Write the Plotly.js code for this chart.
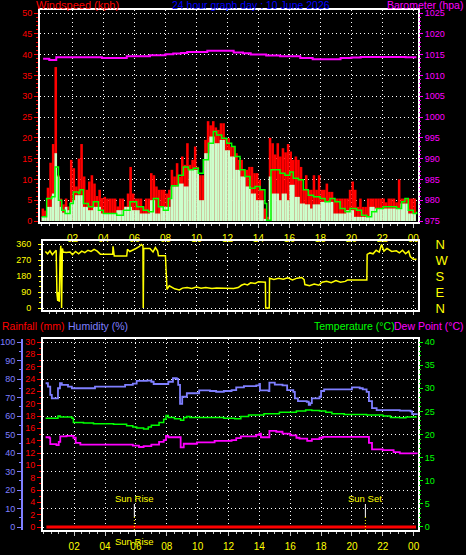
<!DOCTYPE html>
<html><head><meta charset="utf-8">
<script src="https://cdn.plot.ly/plotly-3.0.1.min.js"></script>
<style>html,body{margin:0;padding:0;background:#000;}#chart{width:466px;height:555px;}</style>
</head><body><div id="chart"></div>
<script>
// ---------- DATA ----------
const chartTitle = "24 hour graph day : 10 June 2026";
const hourTicks = [2,4,6,8,10,12,14,16,18,20,22,24];
const hourLabels = ["02","04","06","08","10","12","14","16","18","20","22","00"];

const windStepHours = 1/6; // 10-minute samples starting at 00:00
const windGust = [
 3,2.5,8,14,18.5,37, 11,5.4,4,5.4,3.5,14.7, 12.7,8.3,15,18.5,10.7,7.5, 9.5,11,9,6,7.5,5.5,
 5.8,5.4,5.4,5.4,5.4,3.5, 5.4,5.4,3.5,6.6,13,6.6, 5.4,5.4,5.4,3.5,5.4,5.4, 11.5,11,8.3,7.5,7.5,7.5,
 6.6,7.5,12.3,10.7,13.9,10.7, 15.5,13.5,18.7,13.5,14.7,17.9, 13,11,11,19.5,24,23, 24,22.5,21.9,23.5,23.5,19.9,
 19.9,17.9,17.9,16.3,14.7,14.7, 12.3,12.3,13,13,11.5,11.5, 9.9,7.5,3,1,20,18.7, 16,18.7,15.5,17.5,16.5,18.5,
 16.7,14.7,15.5,14.7,13,7.5, 11,7.5,7.5,11,7.5,11, 7.5,7.5,9,7,7,5.4, 5.4,5.4,5.4,5.4,5.4,7.5,
 9.5,7.5,3.4,5.4,3.4,3.4, 5.4,5.4,5.4,5.4,5.4,5.4, 5.4,4.5,5.4,5.4,5.4,4.5, 10,5.4,5.4,5.4,5.4,5.4, 5.4];
const windSpeed = [
 1,1,3.4,3.4,6.6,16.3, 10.7,3.4,2,3.4,2.6,4.5, 5,6.2,6.2,6.2,3.4,3.4, 2.6,2.6,3.4,3.4,3.4,1.8,
 1.8,1.8,1.8,1.8,1.8,2.6, 2.6,2.6,3.4,3.4,3.4,2.6, 2.6,2.6,1.8,1.8,1.8,1.8, 5,5,1.8,1.8,3.4,3.4,
 3.4,3.4,8.3,8.3,8.3,9, 9,8.3,8.3,12.3,12.3,12.3, 12.3,5,5,16.3,16.3,20.3, 20.3,18.7,18.7,19.5,19.5,17,
 17,15.5,15.5,12.3,12.3,10.7, 10.7,8.3,8.3,6.6,6.6,5, 5,5,0.5,0,10.7,6.6, 6.6,6.6,5,6.6,6.6,5,
 8.7,8.7,5.8,5.8,4.2,4.2, 4,4,3,4,4,4, 4.6,4.6,4.6,4.6,4.6,1.8, 1.8,1.8,1.8,1.8,2.6,2.6,
 2.6,1,1,1,1,1, 1,3.4,3.4,3,3,3, 3,3,3,3,3,3, 3,4.2,4.2,4.2,1.8,1.8, 1.8];

const windAvgTime = [0.01,0.33,0.66,0.87,1.09,1.3,1.52,1.84,2.05,2.38,2.48,2.7,3.02,3.34,3.67,3.99,4.85,5.28,5.71,6.14,
 6.57,6.89,7.22,7.54,7.86,8.18,8.4,8.83,9.15,9.48,9.8,10.12,10.44,10.77,11.09,11.3,11.63,11.95,12.27,12.49,
 12.81,13.13,13.45,13.78,14.1,14.42,14.53,14.81,15.07,15.39,15.71,16.03,16.25,16.58,16.9,17.22,17.55,17.98,18.3,18.62,
 18.94,19.27,19.59,19.91,20.34,20.66,20.99,21.31,21.63,22.06,22.49,22.92,23.24,23.46,23.67,23.99,24.21];
const windAvg = [1,5.4,5.8,13,5,2.6,1.8,4.2,7,6.6,7.5,4.2,3.4,4.6,2.6,1.8,1.4,2.6,4.6,3.4,
 2.6,2.2,5.4,3.4,2.6,5.4,8.5,11,13,12.3,12.7,11.5,14.7,18.7,21.5,20.7,19.9,18.7,17.9,15.5,
 12.3,10.7,7.9,8.3,7.5,4.2,0.2,12.3,12.3,11.5,11,11.8,10.3,9.9,7.5,6.2,5.8,5.4,4.6,5.4,
 4.6,3,2.2,3,2.6,1.4,1,2.2,3,3.4,3.4,3,4.6,5.4,2.6,1.8,2.2];

const baroTime = [0.1,0.5,0.95,2,3,3.9,4.5,5.5,6,7,7.5,8,8.5,9,9.4,10,10.7,11.5,12.4,13,13.5,14,14.5,15.4,16,16.7,17.5,18.5,19.3,20,20.6,21.5,22.7,23.5,24.2];
const baro = [1014.0,1013.7,1014.35,1014.35,1014.35,1014.2,1014.2,1014.6,1014.6,1014.85,1014.85,1015.1,1015.25,1015.4,1015.65,1015.65,1015.9,1015.9,1015.5,1015.3,1015.0,1015.0,1014.8,1014.6,1014.6,1014.2,1013.9,1013.9,1014.2,1014.3,1014.45,1014.45,1014.4,1014.35,1014.35];

const dirTime = [0.25,0.4,0.55,0.7,0.85,0.95,1.0,1.05,1.1,1.15,1.2,1.25,1.3,1.35,1.4,1.6,1.85,2.0,2.2,2.4,2.6,2.8,3.0,3.2,3.4,3.6,3.8,4.6,4.62,4.7,
 5.5,5.55,5.7,5.9,6.1,6.3,6.45,6.55,6.57,6.6,7.0,7.2,7.35,7.5,7.55,8.0,8.1,8.25,8.4,8.6,8.9,9.1,9.4,9.7,10.0,10.3,10.6,11.0,11.3,11.6,
 12.0,12.4,12.7,12.9,13.1,13.3,13.5,13.8,14.0,14.3,14.45,14.47,14.7,14.72,15.0,15.3,15.6,15.9,16.2,16.5,16.8,16.95,17.0,17.3,17.6,17.9,18.1,18.4,18.7,19.0,
 19.3,19.6,19.75,21.0,21.02,21.2,21.4,21.6,21.8,21.95,22.1,22.3,22.6,22.9,23.1,23.3,23.5,23.7,23.8,24.0,24.2];
const dirDeg = [318,305,322,300,315,325,80,40,90,35,290,350,0,335,315,312,315,300,318,305,320,312,325,318,330,320,303,303,347,292,
 292,330,318,325,335,345,357,350,0,335,335,315,340,320,294,294,105,125,118,108,102,112,115,110,118,112,116,110,113,112,
 114,110,115,128,135,130,142,138,148,145,145,0,0,167,160,168,162,170,158,168,172,160,132,125,135,128,145,150,142,155,
 145,150,157,157,302,310,305,325,315,357,320,335,318,322,310,325,305,320,290,275,275];
const dirTicks = [0,90,180,270,360];
const dirLetters = ["N","E","S","W","N"];

const humTime = [0.15,0.3,0.45,0.55,0.85,0.95,1.08,1.2,1.5,1.6,1.85,3.25,3.35,5.2,5.3,5.8,6.05,6.7,7.0,7.15,
 7.9,8.1,8.4,8.65,8.74,8.86,9.0,9.2,9.3,9.95,10.1,10.8,11.2,11.7,12.2,12.5,13.0,13.8,14.0,14.04,
 14.6,14.65,15.0,15.5,15.8,16.2,16.3,16.5,17.07,17.2,17.3,17.4,17.9,18.0,18.2,19.5,20.0,20.5,20.7,20.95,
 21.1,21.3,21.6,23.1,23.8,23.9,24.2];
const humidity = [77.7,75.9,71.4,69.5,69.5,75,77.7,76.8,76.8,75.9,75,75,75.9,75.9,76.8,77.5,79,79.1,78.5,77.3,
 77.3,78.5,80.4,80,76.8,66.5,70.4,70.4,72.3,72.3,73.8,73.5,73.1,73.5,74,75.5,76.2,76.5,77.3,73.8,
 73.5,78,77,76.5,74,73,69.5,68,67.7,66,67,69.5,70.4,73.5,74.4,74.4,75.5,75,74.4,73,
 68,64.3,63.2,62.9,62.5,61,60.5];

const tempTime = [0.15,0.85,0.95,1.1,1.85,1.95,2.6,3.25,4.55,5.4,5.8,6.05,6.5,6.8,7.0,7.5,7.8,7.95,8.1,8.5,
 8.9,9.1,9.3,9.5,11.1,11.7,12.4,12.8,13.3,14.3,15.3,16.4,17.0,17.4,17.9,18.3,18.7,19.5,20.95,22.0,22.5,23.1,23.5,24.2];
const temperature = [23.5,23.5,24,23.8,23.5,22.6,22.5,22.3,22.2,21.9,21.6,21.4,21.2,21.6,22,22.6,23.3,24.1,23.7,23.4,
 23.1,23.7,23.9,23.7,23.7,23.5,23.4,23.9,24.2,24.5,24.8,25.1,25.3,25.2,25.1,24.8,24.5,24.3,24.2,24.0,23.7,23.6,23.8,23.8];

const dewTime = [0.15,0.4,0.45,0.85,1.0,1.1,1.5,1.95,2.1,2.4,5.8,6.2,6.5,7.0,7.5,7.8,7.95,8.1,8.85,8.9,
 9.1,9.95,11.1,12.2,12.5,12.8,13.8,14.0,14.1,14.6,14.65,15.1,15.5,16.0,16.4,16.6,17.1,17.4,17.9,18.1,
 20.95,21.1,21.3,22.0,22.7,23.1,24.2];
const dewPoint = [19.4,19.2,17.9,17.7,18.4,19.6,19.7,19.3,18.2,17.8,17.6,17.3,17.5,17.8,18.4,18.8,19.7,19.4,19.4,17.2,
 18,18.3,18.6,18.8,19.2,19.6,19.9,20.2,19.4,19.4,20.8,20.6,20.2,19.8,19.3,19.1,18.6,19,19.3,19.5,
 19.5,18.2,16.8,16.6,16.2,15.9,15.8];

const rainTime = [0.2,24.15];
const rainfall = [0,0];
const sunRise = 5.9;
const sunSet = 20.87;

// ---------- LAYOUT HELPERS ----------
const W = 466, H = 555;
const px = x => x / W;
const py = y => 1 - y / H;
const numFont = 'Liberation Sans Narrow, Liberation Sans, Arial, sans-serif';
const txtFont = 'Liberation Sans, Arial, sans-serif';
const RED = '#ff0000', MAG = '#ff00ff', YEL = '#ffff00', GRN = '#00ff00', LAV = '#7f7fff', PALE = '#ccffcc';
const gridOpts = {showgrid: true, gridcolor: '#ffffff', griddash: '1px,3px', gridwidth: 1};
const windTimes = windGust.map((_, i) => i * windStepHours);

const traces = [
  {type: 'bar', x: windTimes, y: windGust, width: windStepHours, offset: 0, xaxis: 'x', yaxis: 'y',
   marker: {color: RED, line: {width: 0}}, hoverinfo: 'skip'},
  {type: 'bar', x: windTimes, y: windSpeed, width: windStepHours, offset: 0, xaxis: 'x', yaxis: 'y',
   marker: {color: PALE, line: {width: 0}}, hoverinfo: 'skip'},
  {type: 'scatter', mode: 'lines', x: windAvgTime, y: windAvg, xaxis: 'x', yaxis: 'y',
   line: {color: GRN, width: 1.5, shape: 'hv'}},
  {type: 'scatter', mode: 'lines', x: baroTime, y: baro, xaxis: 'x', yaxis: 'y2',
   line: {color: MAG, width: 2, shape: 'hv'}},
  {type: 'scatter', mode: 'lines', x: dirTime, y: dirDeg, xaxis: 'x2', yaxis: 'y3',
   line: {color: YEL, width: 1.5}},
  {type: 'scatter', mode: 'lines', x: [], y: [], xaxis: 'x2', yaxis: 'y7', hoverinfo: 'skip'},
  {type: 'scatter', mode: 'lines', x: rainTime, y: rainfall, xaxis: 'x3', yaxis: 'y4',
   line: {color: RED, width: 3}},
  {type: 'scatter', mode: 'lines', x: humTime, y: humidity, xaxis: 'x3', yaxis: 'y5',
   line: {color: LAV, width: 1.8, shape: 'hv'}},
  {type: 'scatter', mode: 'lines', x: tempTime, y: temperature, xaxis: 'x3', yaxis: 'y6',
   line: {color: GRN, width: 1.5, shape: 'hv'}},
  {type: 'scatter', mode: 'lines', x: dewTime, y: dewPoint, xaxis: 'x3', yaxis: 'y6',
   line: {color: MAG, width: 1.8, shape: 'hv'}}
];

const xCommon = {
  tickmode: 'array', tickvals: hourTicks, ticktext: hourLabels,
  ticks: 'outside', ticklen: 4, tickcolor: '#c8c8c8',
  minor: {ticks: 'outside', tickmode: 'linear', tick0: 0, dtick: 0.5, ticklen: 2, tickcolor: '#c8c8c8'},
  showline: true, mirror: true, linecolor: '#ffffff', linewidth: 2, zeroline: false,
  tickfont: {family: numFont, size: 10, color: YEL}
};

const layout = {
  width: W, height: H, margin: {l: 0, r: 0, t: 0, b: 0},
  paper_bgcolor: '#000000', plot_bgcolor: '#000000', showlegend: false, barmode: 'overlay',
  xaxis: Object.assign({}, xCommon, gridOpts, {domain: [px(40), px(418)], range: [-0.1, 24.3], anchor: 'y', ticklabelstandoff: 2}),
  yaxis: Object.assign({}, gridOpts, {domain: [py(222), py(10)], range: [-0.24, 50.72], anchor: 'x',
    tick0: 0, dtick: 5, ticks: 'outside', ticklen: 4, tickcolor: RED,
    minor: {ticks: 'outside', dtick: 1, ticklen: 2, tickcolor: RED},
    tickfont: {family: numFont, size: 9, color: RED},
    showline: true, mirror: true, linecolor: '#ffffff', linewidth: 2, zeroline: false}),
  yaxis2: {overlaying: 'y', side: 'right', anchor: 'x', range: [974.76, 1025.72], tick0: 975, dtick: 5,
    ticks: 'outside', ticklen: 4, tickcolor: MAG,
    minor: {ticks: 'outside', dtick: 1, ticklen: 2, tickcolor: MAG},
    tickfont: {family: numFont, size: 9, color: MAG}, showgrid: false, zeroline: false, showline: false},
  xaxis2: Object.assign({}, xCommon, gridOpts, {domain: [px(43), px(418)], range: [0.1, 24.3], anchor: 'y3', showticklabels: false, ticklen: 3}),
  yaxis3: Object.assign({}, gridOpts, {domain: [py(310), py(241)], range: [-11, 377], anchor: 'x2',
    tickmode: 'array', tickvals: dirTicks, ticks: 'outside', ticklen: 3, tickcolor: YEL,
    minor: {ticks: 'outside', tickmode: 'linear', tick0: 0, dtick: 30, ticklen: 2, tickcolor: YEL},
    tickfont: {family: numFont, size: 9, color: YEL}, ticklabelstandoff: 5,
    showline: true, mirror: true, linecolor: '#ffffff', linewidth: 2, zeroline: false}),
  yaxis7: {overlaying: 'y3', side: 'right', anchor: 'x2', range: [-11, 377],
    tickmode: 'array', tickvals: dirTicks, ticktext: dirLetters,
    ticks: 'outside', ticklen: 14, tickcolor: 'rgba(0,0,0,0)',
    tickfont: {family: txtFont, size: 13, color: YEL}, showgrid: false, zeroline: false, showline: false},
  xaxis3: Object.assign({}, xCommon, gridOpts, {domain: [px(43), px(418)], range: [-0.02, 24.28], anchor: 'y4', ticklabelstandoff: 2}),
  yaxis4: {domain: [py(530), py(339)], range: [-0.486, 30.486], anchor: 'x3', tick0: 0, dtick: 2,
    ticks: 'outside', ticklen: 4, tickcolor: RED,
    minor: {ticks: 'outside', dtick: 1, ticklen: 2, tickcolor: RED},
    tickfont: {family: numFont, size: 9, color: RED}, showgrid: false,
    showline: true, mirror: true, linecolor: '#ffffff', linewidth: 2, zeroline: false},
  yaxis5: Object.assign({}, gridOpts, {overlaying: 'y4', anchor: 'free', position: px(22), side: 'left',
    range: [-1.62, 101.62], tick0: 0, dtick: 10, ticks: 'outside', ticklen: 4, tickcolor: LAV,
    minor: {ticks: 'outside', dtick: 5, ticklen: 2, tickcolor: LAV},
    tickfont: {family: numFont, size: 9, color: LAV},
    showline: true, linecolor: LAV, linewidth: 2, zeroline: false}),
  yaxis6: {overlaying: 'y4', side: 'right', anchor: 'x3', range: [-0.65, 40.65], tick0: 0, dtick: 5,
    ticks: 'outside', ticklen: 4, tickcolor: GRN,
    minor: {ticks: 'outside', dtick: 1, ticklen: 2, tickcolor: GRN},
    tickfont: {family: numFont, size: 9, color: GRN}, showgrid: false, zeroline: false, showline: false},
  annotations: [
    {text: 'Windspeed (kph)', x: px(34), y: py(5), xref: 'paper', yref: 'paper', xanchor: 'left', yanchor: 'middle', showarrow: false, font: {family: txtFont, size: 11, color: RED}},
    {text: chartTitle, x: px(251), y: py(5), xref: 'paper', yref: 'paper', xanchor: 'center', yanchor: 'middle', showarrow: false, font: {family: txtFont, size: 10.5, color: '#0000ff'}},
    {text: 'Barometer (hpa)', x: px(465), y: py(5), xref: 'paper', yref: 'paper', xanchor: 'right', yanchor: 'middle', showarrow: false, font: {family: txtFont, size: 10.5, color: MAG}},
    {text: 'Rainfall (mm)', x: px(0), y: py(326), xref: 'paper', yref: 'paper', xanchor: 'left', yanchor: 'middle', showarrow: false, font: {family: txtFont, size: 10.5, color: RED}},
    {text: 'Humidity (%)', x: px(66), y: py(326), xref: 'paper', yref: 'paper', xanchor: 'left', yanchor: 'middle', showarrow: false, font: {family: txtFont, size: 10.5, color: LAV}},
    {text: 'Temperature (°C)', x: px(312), y: py(326), xref: 'paper', yref: 'paper', xanchor: 'left', yanchor: 'middle', showarrow: false, font: {family: txtFont, size: 10.5, color: GRN}},
    {text: 'Dew Point (°C)', x: px(392), y: py(326), xref: 'paper', yref: 'paper', xanchor: 'left', yanchor: 'middle', showarrow: false, font: {family: txtFont, size: 10.5, color: MAG}},
    {text: 'Sun Rise', x: sunRise, y: py(498), xref: 'x3', yref: 'paper', xanchor: 'center', yanchor: 'middle', showarrow: false, font: {family: txtFont, size: 9.5, color: YEL}},
    {text: 'Sun Set', x: sunSet, y: py(498), xref: 'x3', yref: 'paper', xanchor: 'center', yanchor: 'middle', showarrow: false, font: {family: txtFont, size: 9.5, color: YEL}},
    {text: 'Sun Rise', x: sunRise, y: py(541), xref: 'x3', yref: 'paper', xanchor: 'center', yanchor: 'middle', showarrow: false, font: {family: txtFont, size: 9.5, color: YEL}}
  ],
  shapes: [
    {type: 'line', xref: 'x3', yref: 'paper', x0: sunRise, x1: sunRise, y0: py(517), y1: py(504), line: {color: '#ffffff', width: 1}},
    {type: 'line', xref: 'x3', yref: 'paper', x0: sunRise, x1: sunRise, y0: py(530), y1: py(517), line: {color: YEL, width: 1, dash: '1px,2px'}},
    {type: 'line', xref: 'x3', yref: 'paper', x0: sunSet, x1: sunSet, y0: py(517), y1: py(504), line: {color: '#ffffff', width: 1}},
    {type: 'line', xref: 'x3', yref: 'paper', x0: sunSet, x1: sunSet, y0: py(530), y1: py(517), line: {color: YEL, width: 1, dash: '1px,2px'}}
  ]
};

Plotly.newPlot('chart', traces, layout, {staticPlot: true, displayModeBar: false});
</script>
</body></html>
